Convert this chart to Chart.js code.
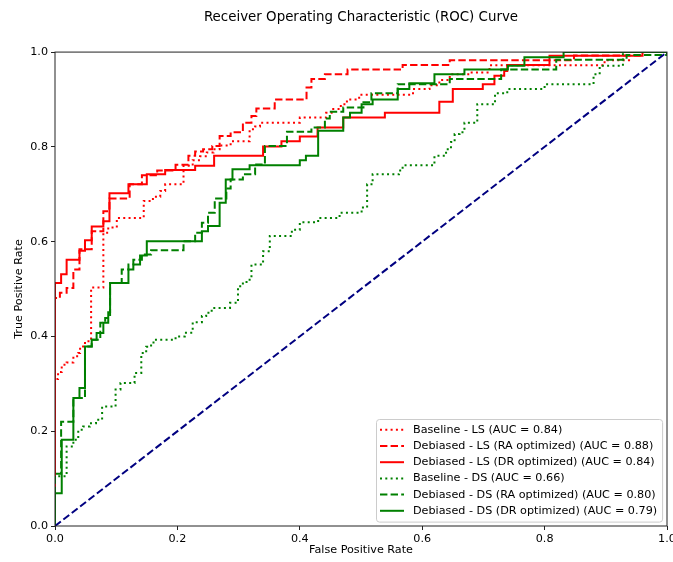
<!DOCTYPE html>
<html>
<head>
<meta charset="utf-8">
<title>ROC Curve</title>
<script src="https://cdn.jsdelivr.net/npm/chart.js@4.4.1/dist/chart.umd.min.js"></script>
<style>
  html, body { margin: 0; padding: 0; background: #fff; }
  canvas { display: block; }
</style>
</head>
<body>
<canvas id="roc" width="673" height="562"></canvas>
<script>
// legend names, in the order the curves were plotted
const seriesLabels = [
  "Baseline - LS (AUC = 0.84)",
  "Debiased - LS (RA optimized) (AUC = 0.88)",
  "Debiased - LS (DR optimized) (AUC = 0.84)",
  "Baseline - DS (AUC = 0.66)",
  "Debiased - DS (RA optimized) (AUC = 0.80)",
  "Debiased - DS (DR optimized) (AUC = 0.79)"
];

// each point is the top of a step: (fpr, tpr) after the rise
const lsBaselineFpr = [0, 0, 0.005, 0.011, 0.019, 0.03, 0.038, 0.041, 0.049, 0.059, 0.079, 0.087, 0.101, 0.145, 0.16, 0.172, 0.18, 0.21, 0.225, 0.237, 0.248, 0.259, 0.269, 0.287, 0.318, 0.327, 0.335, 0.4, 0.443, 0.452, 0.467, 0.477, 0.497, 0.585, 0.612, 0.628, 0.645, 0.679, 0.71, 0.898, 0.938, 1];
const lsBaselineTpr = [0, 0.31, 0.325, 0.34, 0.345, 0.358, 0.365, 0.379, 0.39, 0.503, 0.619, 0.63, 0.65, 0.686, 0.695, 0.707, 0.721, 0.76, 0.772, 0.78, 0.788, 0.795, 0.803, 0.812, 0.837, 0.843, 0.851, 0.862, 0.872, 0.88, 0.89, 0.9, 0.91, 0.922, 0.93, 0.941, 0.953, 0.957, 0.972, 0.983, 1, 1];

const lsRaFpr = [0, 0, 0.008, 0.019, 0.03, 0.04, 0.06, 0.079, 0.089, 0.122, 0.142, 0.167, 0.197, 0.218, 0.229, 0.242, 0.257, 0.269, 0.287, 0.307, 0.321, 0.329, 0.359, 0.411, 0.419, 0.441, 0.478, 0.568, 0.645, 0.848, 0.958, 1];
const lsRaTpr = [0, 0.481, 0.492, 0.502, 0.541, 0.584, 0.622, 0.664, 0.691, 0.721, 0.74, 0.75, 0.762, 0.781, 0.79, 0.795, 0.802, 0.823, 0.831, 0.851, 0.865, 0.881, 0.9, 0.925, 0.943, 0.953, 0.963, 0.973, 0.983, 0.993, 1, 1];

const lsDrFpr = [0, 0, 0.01, 0.019, 0.04, 0.049, 0.06, 0.079, 0.089, 0.12, 0.15, 0.18, 0.229, 0.26, 0.34, 0.37, 0.4, 0.429, 0.471, 0.539, 0.628, 0.65, 0.699, 0.718, 0.734, 0.739, 0.808, 0.96, 1];
const lsDrTpr = [0, 0.513, 0.531, 0.562, 0.581, 0.603, 0.632, 0.643, 0.702, 0.721, 0.742, 0.751, 0.76, 0.781, 0.801, 0.812, 0.822, 0.841, 0.862, 0.872, 0.895, 0.922, 0.932, 0.95, 0.96, 0.973, 0.992, 1, 1];

const dsBaselineFpr = [0, 0, 0.019, 0.03, 0.038, 0.046, 0.057, 0.067, 0.077, 0.099, 0.107, 0.13, 0.141, 0.149, 0.157, 0.163, 0.197, 0.212, 0.225, 0.24, 0.247, 0.256, 0.286, 0.299, 0.307, 0.318, 0.321, 0.34, 0.351, 0.387, 0.4, 0.43, 0.465, 0.501, 0.51, 0.519, 0.562, 0.568, 0.62, 0.639, 0.647, 0.653, 0.661, 0.669, 0.69, 0.719, 0.739, 0.8, 0.88, 0.89, 0.928, 1];
const dsBaselineTpr = [0, 0.105, 0.168, 0.182, 0.203, 0.21, 0.217, 0.224, 0.252, 0.288, 0.302, 0.323, 0.365, 0.378, 0.387, 0.393, 0.4, 0.408, 0.43, 0.443, 0.45, 0.46, 0.471, 0.506, 0.515, 0.524, 0.552, 0.58, 0.612, 0.625, 0.641, 0.65, 0.661, 0.672, 0.721, 0.742, 0.75, 0.761, 0.781, 0.795, 0.81, 0.827, 0.831, 0.851, 0.89, 0.913, 0.922, 0.932, 0.953, 0.971, 1, 1];

const dsRaFpr = [0, 0, 0.01, 0.03, 0.049, 0.06, 0.074, 0.082, 0.09, 0.109, 0.12, 0.128, 0.142, 0.157, 0.21, 0.229, 0.24, 0.25, 0.261, 0.28, 0.287, 0.307, 0.327, 0.343, 0.379, 0.419, 0.441, 0.449, 0.471, 0.504, 0.517, 0.56, 0.645, 0.729, 0.819, 0.934, 1];
const dsRaTpr = [0, 0.11, 0.22, 0.27, 0.379, 0.393, 0.429, 0.439, 0.513, 0.541, 0.552, 0.562, 0.573, 0.582, 0.601, 0.619, 0.64, 0.661, 0.691, 0.712, 0.731, 0.742, 0.763, 0.802, 0.832, 0.841, 0.86, 0.874, 0.883, 0.894, 0.913, 0.932, 0.943, 0.963, 0.984, 0.994, 1];

const dsDrFpr = [0, 0, 0.011, 0.03, 0.04, 0.049, 0.06, 0.068, 0.079, 0.087, 0.09, 0.12, 0.128, 0.139, 0.15, 0.24, 0.25, 0.269, 0.279, 0.29, 0.318, 0.4, 0.41, 0.43, 0.471, 0.482, 0.501, 0.519, 0.56, 0.579, 0.62, 0.669, 0.74, 0.767, 0.831, 1];
const dsDrTpr = [0, 0.069, 0.182, 0.27, 0.291, 0.379, 0.393, 0.407, 0.429, 0.451, 0.513, 0.541, 0.552, 0.571, 0.601, 0.622, 0.633, 0.682, 0.731, 0.753, 0.761, 0.772, 0.781, 0.834, 0.862, 0.872, 0.89, 0.9, 0.922, 0.934, 0.953, 0.963, 0.971, 0.989, 1, 1];

// chance line
const chanceFpr = [0, 1];
const chanceTpr = [0, 1];

const tickValues = [0, 0.2, 0.4, 0.6, 0.8, 1.0];
const tickLabels = ["0.0", "0.2", "0.4", "0.6", "0.8", "1.0"];

const DOTTED = [2, 3.3];
const DASHED = [7.4, 3.2];
const FONT = "'DejaVu Sans', sans-serif";

function toPoints(fpr, tpr) {
  return fpr.map((x, i) => ({ x: x, y: tpr[i] }));
}

const curves = [
  [lsBaselineFpr, lsBaselineTpr, "#ff0000", DOTTED],
  [lsRaFpr, lsRaTpr, "#ff0000", DASHED],
  [lsDrFpr, lsDrTpr, "#ff0000", []],
  [dsBaselineFpr, dsBaselineTpr, "#008000", DOTTED],
  [dsRaFpr, dsRaTpr, "#008000", DASHED],
  [dsDrFpr, dsDrTpr, "#008000", []]
];

const datasets = curves.map((c, i) => ({
  label: seriesLabels[i],
  data: toPoints(c[0], c[1]),
  borderColor: c[2],
  borderDash: c[3],
  borderWidth: 2,
  stepped: "before",
  pointRadius: 0,
  fill: false,
  order: 6 - i
}));

datasets.push({
  label: "",
  data: toPoints(chanceFpr, chanceTpr),
  borderColor: "#000080",
  borderDash: DASHED,
  borderWidth: 2,
  pointRadius: 0,
  fill: false,
  order: 0
});

// matplotlib style box around the axes
const frame = {
  id: "frame",
  afterDatasetsDraw(chart) {
    const { ctx, chartArea: a } = chart;
    ctx.save();
    ctx.strokeStyle = "#222";
    ctx.lineWidth = 1;
    ctx.strokeRect(a.left, a.top, a.right - a.left, a.bottom - a.top);
    ctx.restore();
  }
};

// legend drawn inside the plot, lower right
const boxLegend = {
  id: "boxLegend",
  afterDraw(chart) {
    const { ctx, chartArea: a } = chart;
    const items = chart.data.datasets.filter(d => d.label);
    ctx.save();
    ctx.font = "11.2px " + FONT;
    const textW = Math.max(...items.map(d => ctx.measureText(d.label).width));
    const rowH = 16.2;
    const w = textW + 42;
    const h = 21.6 + (items.length - 1) * rowH;
    const x = Math.round(a.right - 4.5 - w);
    const y = Math.round(a.bottom - 4.5 - h);

    ctx.beginPath();
    if (ctx.roundRect) ctx.roundRect(x + 0.5, y + 0.5, w, h, 3);
    else ctx.rect(x + 0.5, y + 0.5, w, h);
    ctx.fillStyle = "rgba(255,255,255,0.8)";
    ctx.fill();
    ctx.strokeStyle = "#cccccc";
    ctx.lineWidth = 1;
    ctx.stroke();

    items.forEach((d, i) => {
      const cy = y + 10.8 + i * rowH;
      ctx.beginPath();
      ctx.setLineDash(d.borderDash);
      ctx.strokeStyle = d.borderColor;
      ctx.lineWidth = d.borderWidth;
      ctx.moveTo(x + 4, cy);
      ctx.lineTo(x + 28, cy);
      ctx.stroke();
      ctx.setLineDash([]);
      ctx.fillStyle = "#000";
      ctx.textBaseline = "middle";
      ctx.fillText(d.label, x + 37, cy);
    });
    ctx.restore();
  }
};

Chart.defaults.font.family = FONT;
Chart.defaults.font.size = 11.2;
Chart.defaults.color = "#000";

function fixedTicks(scale) {
  scale.ticks = tickValues.map(v => ({ value: v }));
}

new Chart(document.getElementById("roc"), {
  type: "line",
  data: { datasets: datasets },
  plugins: [frame, boxLegend],
  options: {
    responsive: false,
    devicePixelRatio: 1,
    animation: false,
    layout: { padding: { left: 0, right: 6, top: 0, bottom: 0 } },
    plugins: {
      legend: { display: false },
      tooltip: { enabled: false },
      title: {
        display: true,
        fullSize: false,
        text: "Receiver Operating Characteristic (ROC) Curve",
        font: { size: 13.4, weight: "normal" },
        color: "#000",
        padding: { top: 9, bottom: 27 }
      }
    },
    scales: {
      x: {
        type: "linear",
        min: 0,
        max: 1,
        afterBuildTicks: fixedTicks,
        afterFit(scale) {
          scale.height = 36;
          scale.paddingLeft = 0;
          scale.paddingRight = 0;
        },
        ticks: {
          autoSkip: false,
          maxRotation: 0,
          padding: 2,
          color: "#000",
          callback: (v, i) => tickLabels[i]
        },
        grid: { drawOnChartArea: false, drawTicks: true, tickLength: 4, color: "#222" },
        border: { display: false },
        title: { display: true, text: "False Positive Rate", color: "#000", padding: { top: 0, bottom: 5 } }
      },
      y: {
        type: "linear",
        min: 0,
        max: 1,
        afterBuildTicks: fixedTicks,
        afterFit(scale) {
          scale.width = 55;
          scale.paddingTop = 0;
          scale.paddingBottom = 0;
        },
        ticks: {
          autoSkip: false,
          padding: 3,
          color: "#000",
          callback: (v, i) => tickLabels[i]
        },
        grid: { drawOnChartArea: false, drawTicks: true, tickLength: 4, color: "#222" },
        border: { display: false },
        title: { display: true, text: "True Positive Rate", color: "#000", padding: { top: 12, bottom: 0 } }
      }
    }
  }
});
</script>
</body>
</html>
